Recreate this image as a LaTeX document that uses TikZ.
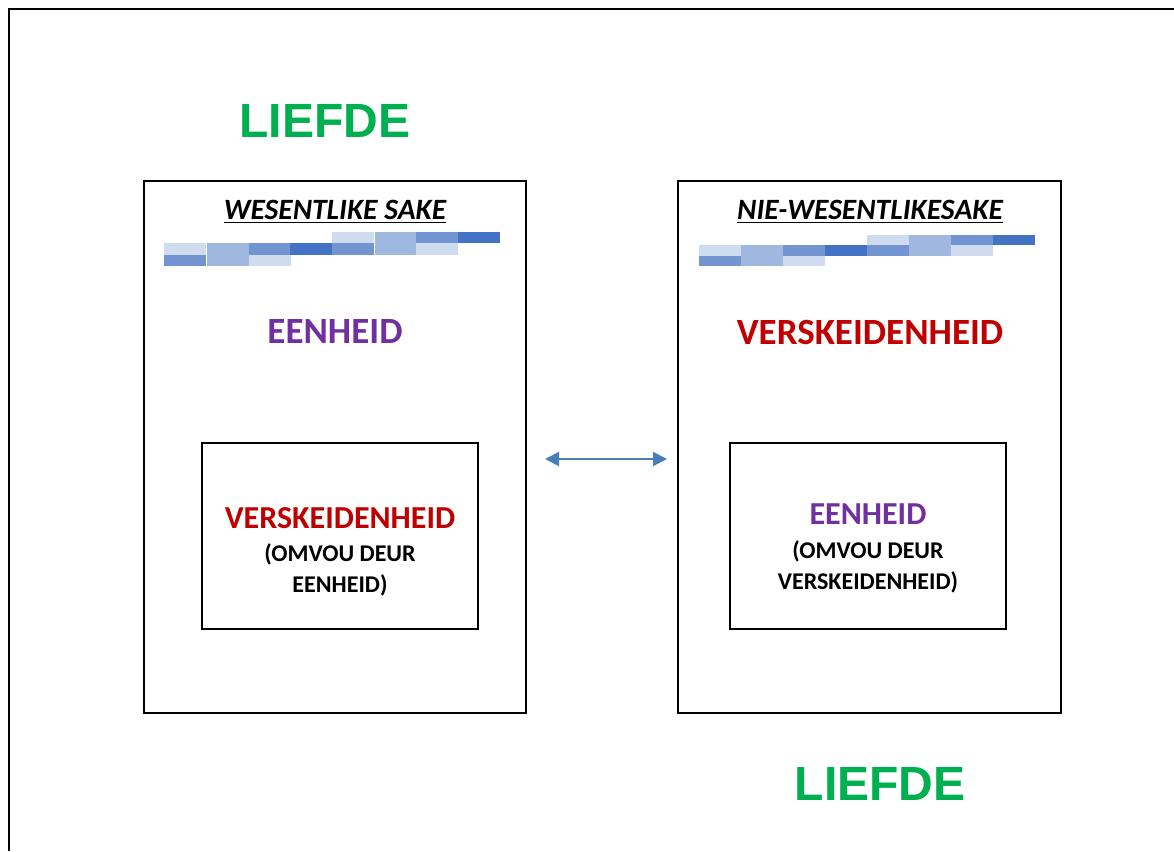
\documentclass[tikz,border=0pt]{standalone}
\usepackage{fontspec}
\usetikzlibrary{arrows.meta}
\newfontfamily\arifont{Liberation Sans}
\newfontfamily\calfont{Carlito}
\definecolor{lovegreen}{HTML}{00B050}
\definecolor{unitypurple}{HTML}{7030A0}
\definecolor{diverred}{HTML}{C00000}
\definecolor{arrblue}{HTML}{4A7EBB}
\definecolor{sA}{HTML}{CFDBEE}
\definecolor{sB}{HTML}{A0B7DF}
\definecolor{sC}{HTML}{7295D2}
\definecolor{sD}{HTML}{4472C4}
\tikzset{
  love/.style={font=\arifont\bfseries\fontsize{48}{48}\selectfont, text=lovegreen, inner sep=0pt, anchor=base},
  head/.style={font=\calfont\bfseries\itshape\fontsize{29.5}{29.5}\selectfont, inner sep=0pt, anchor=base},
  big/.style={font=\calfont\bfseries\fontsize{37}{37}\selectfont, inner sep=0pt, anchor=base},
  mid/.style={font=\calfont\bfseries\fontsize{32}{32}\selectfont, inner sep=0pt, anchor=base},
  small/.style={font=\calfont\bfseries\fontsize{24}{24}\selectfont, inner sep=0pt, anchor=base},
  boxx/.style={draw=black, line width=1.4pt},
}
\begin{document}
\begin{tikzpicture}[x=1pt,y=-1pt]
\useasboundingbox (0,0) rectangle (1174,851);
% outer frame
\draw[line width=2pt] (8.5,851) -- (8.5,9.5) -- (1174,9.5);
% boxes
\draw[boxx] (144,181) rectangle (526,713);
\draw[boxx] (678,181) rectangle (1061,713);
\draw[boxx] (202,443) rectangle (478,629);
\draw[boxx] (730,443) rectangle (1006,629);
% LIEFDE
\node[love] (l1) at (325,137) {LIEFDE};
\node[love] (l2) at (880,800) {LIEFDE};
% headers
\node[head] (h1) at (335,219) {WESENTLIKE SAKE};
\node[head] (h2) at (870,219) {NIE-WESENTLIKESAKE};
\draw[line width=1.8pt] ([yshift=-3.5pt]h1.base west) -- ([yshift=-3.5pt]h1.base east);
\draw[line width=1.8pt] ([yshift=-3.5pt]h2.base west) -- ([yshift=-3.5pt]h2.base east);
% stripes left
\foreach \x/\c in {332/sA,375/sB,416/sC,458/sD} \fill[\c] (\x,232) rectangle ++(42,11);
\foreach \x/\c in {164/sA,207/sB,249/sC,290/sD,332/sC,375/sB,416/sA} \fill[\c] (\x,243) rectangle ++(42,12);
\foreach \x/\c in {164/sC,207/sB,249/sA} \fill[\c] (\x,255) rectangle ++(42,11);
% stripes right
\foreach \x/\c in {867/sA,909/sB,951/sC,993/sD} \fill[\c] (\x,235) rectangle ++(42,10);
\foreach \x/\c in {699/sA,741/sB,783/sC,825/sD,867/sC,909/sB,951/sA} \fill[\c] (\x,245) rectangle ++(42,11);
\foreach \x/\c in {699/sC,741/sB,783/sA} \fill[\c] (\x,256) rectangle ++(42,10);
% main words
\node[big, text=unitypurple] (e1) at (335,343) {EENHEID};
\node[big, text=diverred] (v1) at (870,344) {VERSKEIDENHEID};
% inner left
\node[mid, text=diverred] (v2) at (340,528) {VERSKEIDENHEID};
\node[small] (o1) at (340,561) {(OMVOU DEUR};
\node[small] (o2) at (340,592) {EENHEID)};
% inner right
\node[mid, text=unitypurple] (e2) at (868,524) {EENHEID};
\node[small] (o3) at (868,558) {(OMVOU DEUR};
\node[small] (o4) at (868,589) {VERSKEIDENHEID)};
% arrow
\coordinate (aL) at (545,459);
\coordinate (aR) at (667,459);
\draw[arrblue, line width=2pt, {Triangle[length=14pt,width=14pt]}-{Triangle[length=14pt,width=14pt]}] (aL) -- (aR);
\end{tikzpicture}
\end{document}
